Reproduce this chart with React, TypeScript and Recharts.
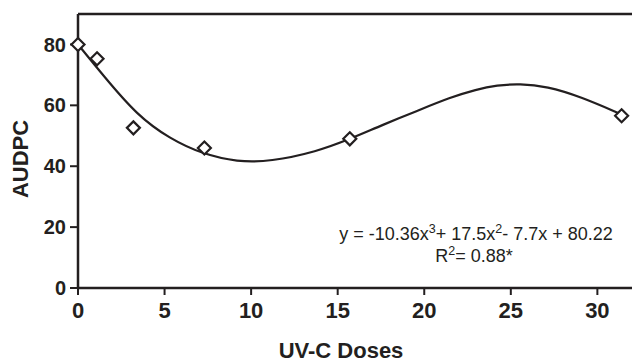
import { ComposedChart, Line, Scatter, XAxis, YAxis, ReferenceLine, Customized } from "recharts"

// observed UV-C doses and AUDPC
const doses = [0, 1.1, 3.2, 7.3, 15.7, 31.4]
const audpc = [80, 75.3, 52.6, 46, 49, 56.6]

// fitted curve
const fitX = [0, 1.5, 3.4, 5.3, 7.2, 9.2, 11.1, 13.8, 15.7, 17.6, 19.6, 21.5, 23, 24.2, 25.5, 27.1, 29, 31.4]
const fitY = [80, 69.5, 56.8, 49, 44, 41.4, 41.5, 44.8, 48.9, 53.6, 58.2, 62.6, 65.2, 66.6, 67.1, 66.2, 62.9, 57]

const xTicks = [0, 5, 10, 15, 20, 25, 30]
const yTicks = [0, 20, 40, 60, 80]

const points = doses.map((x, i) => ({ x, y: audpc[i] }))
const curve = fitX.map((x, i) => ({ x, y: fitY[i] }))

const INK = "#231f20"
const FONT = "'Liberation Sans', Arial, sans-serif"

const Diamond = (props: any) => {
  const { cx, cy } = props
  const r = 6.5
  return (
    <polygon
      points={`${cx},${cy - r} ${cx + r},${cy} ${cx},${cy + r} ${cx - r},${cy}`}
      fill="#fff"
      stroke={INK}
      strokeWidth={2.2}
    />
  )
}

const Titles = () => (
  <g fontFamily={FONT} fill={INK}>
    <text x={28} y={159} transform="rotate(-90, 28, 159)" textAnchor="middle" fontWeight="bold" fontSize={22}>
      AUDPC
    </text>
    <text x={341} y={358} textAnchor="middle" fontWeight="bold" fontSize={22}>
      UV-C Doses
    </text>
    <text x={476} y={240} textAnchor="middle" fontSize={18}>
      y = -10.36x<tspan dy={-7} fontSize={12.5}>3</tspan>
      <tspan dy={7}>+ 17.5x</tspan>
      <tspan dy={-7} fontSize={12.5}>2</tspan>
      <tspan dy={7}>- 7.7x + 80.22</tspan>
    </text>
    <text x={474} y={262} textAnchor="middle" fontSize={18}>
      R<tspan dy={-7} fontSize={12.5}>2</tspan>
      <tspan dy={7}>= 0.88*</tspan>
    </text>
  </g>
)

export default function App() {
  return (
    <div style={{ position: "absolute", left: 0, top: 0 }}>
      <ComposedChart width={633} height={363} margin={{ top: 14, right: 1, bottom: 0, left: 0 }}>
        <XAxis
          type="number"
          dataKey="x"
          domain={[0, 32]}
          ticks={xTicks}
          height={75}
          tickSize={7}
          tickMargin={7}
          axisLine={{ stroke: INK, strokeWidth: 2.5 }}
          tickLine={{ stroke: INK, strokeWidth: 2 }}
          tick={{ fill: INK, fontSize: 22, fontWeight: "bold", fontFamily: FONT }}
        />
        <YAxis
          type="number"
          domain={[0, 90]}
          ticks={yTicks}
          width={78}
          tickSize={8}
          tickMargin={4}
          axisLine={{ stroke: INK, strokeWidth: 2.5 }}
          tickLine={{ stroke: INK, strokeWidth: 2 }}
          tick={{ fill: INK, fontSize: 20, fontWeight: "bold", fontFamily: FONT }}
        />
        <ReferenceLine y={90} stroke={INK} strokeWidth={2.5} />
        <Line
          data={curve}
          dataKey="y"
          type="basis"
          stroke={INK}
          strokeWidth={2.2}
          dot={false}
          activeDot={false}
          isAnimationActive={false}
        />
        <Scatter data={points} dataKey="y" shape={Diamond} isAnimationActive={false} />
        <Customized component={Titles} />
      </ComposedChart>
    </div>
  )
}
